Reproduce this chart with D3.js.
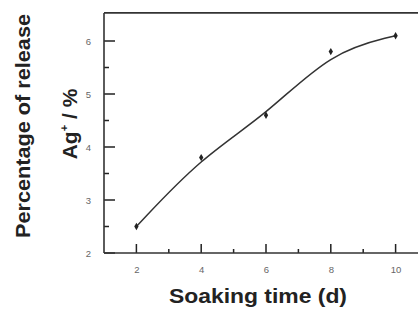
<!DOCTYPE html>
<html><head><meta charset="utf-8">
<script src="https://cdn.jsdelivr.net/npm/d3@7"></script>
<style>body{margin:0;background:#fff}svg{display:block}</style>
</head><body>
<script>
const days = [2, 4, 6, 8, 10];
const release = [2.5, 3.8, 4.6, 5.8, 6.1];
const xTicks = [2, 4, 6, 8, 10];
const yTicks = [2, 3, 4, 5, 6];
const xMinor = [3, 5, 7, 9];
const yMinor = [2.5, 3.5, 4.5, 5.5];

const W = 418, H = 309;
const FONT = "Liberation Sans, Arial, sans-serif";
const svg = d3.select("body").append("svg").attr("width", W).attr("height", H);
const x = d3.scaleLinear().domain([1, 11]).range([104, 428]);
const y = d3.scaleLinear().domain([2, 6]).range([253, 41]);
const axisColor = "#222";

const gy = svg.append("g").attr("transform", `translate(${x(1)},0)`)
  .call(d3.axisLeft(y).tickValues(yTicks).tickSize(0).tickPadding(13).tickFormat(d3.format("d")));
gy.select(".domain").remove();
gy.selectAll(".tick text").attr("font-family", FONT).attr("font-size", 9.5).attr("fill", "#666");

const gx = svg.append("g").attr("transform", `translate(0,${y(2)})`)
  .call(d3.axisBottom(x).tickValues(xTicks).tickSize(0).tickPadding(13).tickFormat(d3.format("d")));
gx.select(".domain").remove();
gx.selectAll(".tick text").attr("font-family", FONT).attr("font-size", 9.5).attr("fill", "#666");

// inward ticks
const tickPath = d3.path();
yTicks.forEach(d => { tickPath.moveTo(x(1), y(d)); tickPath.lineTo(x(1) + 11, y(d)); });
yMinor.forEach(d => { tickPath.moveTo(x(1), y(d)); tickPath.lineTo(x(1) + 5, y(d)); });
xTicks.forEach(d => { tickPath.moveTo(x(d), y(2)); tickPath.lineTo(x(d), y(2) - 9); });
xMinor.forEach(d => { tickPath.moveTo(x(d), y(2)); tickPath.lineTo(x(d), y(2) - 4); });
svg.append("path").attr("d", tickPath.toString())
  .attr("fill", "none").attr("stroke", axisColor).attr("stroke-width", 1.5);

// frame
const frame = svg.append("g").attr("stroke", "#333").attr("stroke-width", 1.6);
frame.append("line").attr("x1", x(1)).attr("x2", W + 2).attr("y1", y(6.53)).attr("y2", y(6.53));
frame.append("line").attr("x1", x(1)).attr("x2", x(1)).attr("y1", y(6.53)).attr("y2", y(2));
frame.append("line").attr("x1", x(1)).attr("x2", W + 2).attr("y1", y(2)).attr("y2", y(2));

// curve
const pts = days.map((d, i) => [d, release[i]]);
svg.append("path").datum(pts)
  .attr("d", d3.line().x(d => x(d[0])).y(d => y(d[1])).curve(d3.curveBasis))
  .attr("fill", "none").attr("stroke", "#333").attr("stroke-width", 1.5);

// markers
svg.selectAll(".pt").data(pts).enter().append("path")
  .attr("transform", d => `translate(${x(d[0])},${y(d[1])})`)
  .attr("d", d3.symbol().type(d3.symbolDiamond).size(16))
  .attr("fill", "#222");

// titles
svg.append("text").attr("transform", "translate(30,126) rotate(-90)")
  .attr("text-anchor", "middle").attr("font-family", FONT)
  .attr("font-weight", "bold").attr("font-size", 20).attr("fill", "#222")
  .attr("textLength", 224).attr("lengthAdjust", "spacingAndGlyphs")
  .text("Percentage of release");
const t2 = svg.append("text").attr("transform", "translate(77,124) rotate(-90)")
  .attr("text-anchor", "middle").attr("font-family", FONT)
  .attr("font-weight", "bold").attr("font-size", 21).attr("fill", "#222");
t2.append("tspan").text("Ag");
t2.append("tspan").attr("dy", -9).attr("font-size", 11).text("+");
t2.append("tspan").attr("dy", 9).text(" / %");
svg.append("text").attr("x", 258).attr("y", 303)
  .attr("text-anchor", "middle").attr("font-family", FONT)
  .attr("font-weight", "bold").attr("font-size", 20).attr("fill", "#222")
  .attr("textLength", 178).attr("lengthAdjust", "spacingAndGlyphs")
  .text("Soaking time (d)");
</script>
</body></html>
